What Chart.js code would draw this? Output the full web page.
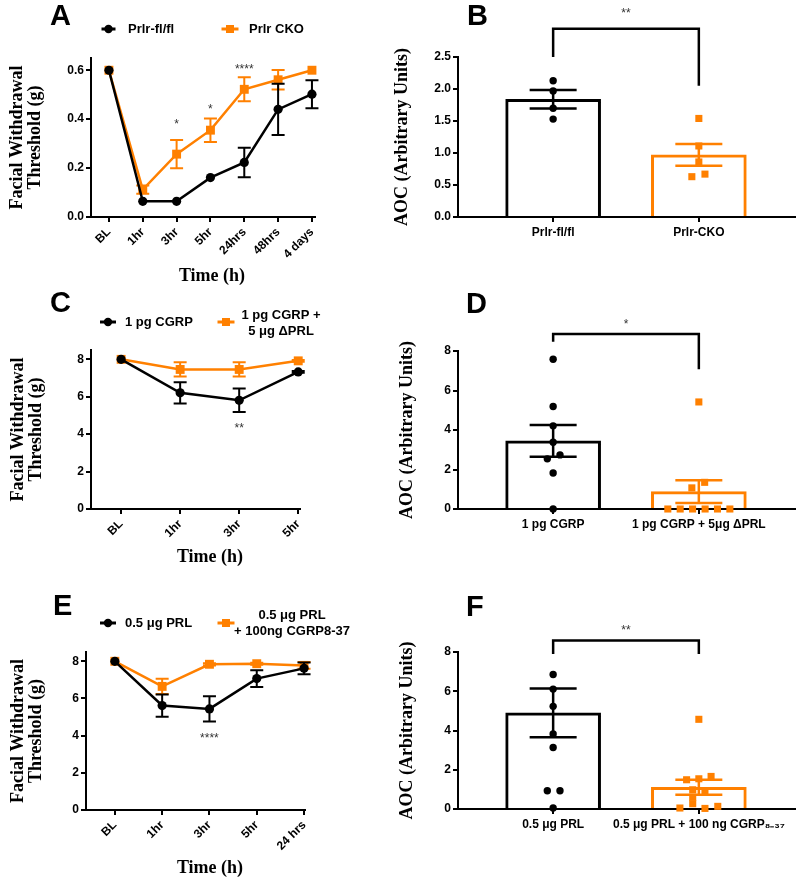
<!DOCTYPE html>
<html>
<head>
<meta charset="utf-8">
<script src="https://cdn.jsdelivr.net/npm/chart.js@4/dist/chart.umd.min.js"></script>
<style>
html, body { margin: 0; padding: 0; background: #fff; }
#wrap { position: relative; width: 800px; height: 879px; overflow: hidden; background: #fff; }
#wrap canvas { position: absolute; }
</style>
</head>
<body>
<div id="wrap">
  <canvas id="cA" width="380" height="290" style="left:0px;top:0px"></canvas>
  <canvas id="cB" width="420" height="290" style="left:380px;top:0px"></canvas>
  <canvas id="cC" width="380" height="290" style="left:0px;top:290px"></canvas>
  <canvas id="cD" width="420" height="290" style="left:380px;top:290px"></canvas>
  <canvas id="cE" width="380" height="299" style="left:0px;top:580px"></canvas>
  <canvas id="cF" width="420" height="299" style="left:380px;top:580px"></canvas>
</div>
<script>
// ================= DATA =================
// Panel A
const aTimes = ['BL', '1hr', '3hr', '5hr', '24hrs', '48hrs', '4 days'];
const aSeries = ['Prlr-fl/fl', 'Prlr CKO'];
const aFlox = [0.60, 0.064, 0.064, 0.161, 0.223, 0.44, 0.502];
const aFloxSem = [0, 0, 0, 0, 0.06, 0.105, 0.057];
const aCko = [0.60, 0.112, 0.257, 0.355, 0.522, 0.561, 0.60];
const aCkoSem = [0, 0.017, 0.058, 0.048, 0.049, 0.04, 0];
const aYTicks = [0, 0.2, 0.4, 0.6];
const aSigAt = [2, 3, 4];
const aSigY = [0.388, 0.449, 0.616];
const aSigText = ['*', '*', '****'];

// Panel B
const bGroups = ['Prlr-fl/fl', 'Prlr-CKO'];
const bMeans = [1.84, 0.97];
const bSem = [0.145, 0.17];
const bFloxPts = [2.13, 1.97, 1.70, 1.53];
const bFloxJit = [0, 0, 0, 0];
const bCkoPts = [1.54, 1.11, 0.86, 0.63, 0.67];
const bCkoJit = [0, 0, 0, -0.048, 0.042];
const bYTicks = [0, 0.5, 1.0, 1.5, 2.0, 2.5];
const bBracket = [2.5, 2.94, 2.05];   // left leg end, bar top, right leg end
const bSig = ['**', 3.22];

// Panel C
const cTimes = ['BL', '1hr', '3hr', '5hr'];
const cSeries = [['1 pg CGRP'], ['1 pg CGRP +', '5 \u03BCg \u0394PRL']];
const cCgrp = [8.0, 6.21, 5.81, 7.33];
const cCgrpSem = [0, 0.57, 0.63, 0.05];
const cDprl = [8.0, 7.46, 7.46, 7.92];
const cDprlSem = [0, 0.38, 0.38, 0.05];
const cYTicks = [0, 2, 4, 6, 8];
const cSigAt = [2];
const cSigY = [4.46];
const cSigText = ['**'];

// Panel D
const dGroups = ['1 pg CGRP', '1 pg CGRP + 5\u03BCg \u0394PRL'];
const dMeans = [3.45, 0.88];
const dSem = [0.80, 0.58];
const dCgrpPts = [7.58, 5.19, 4.21, 3.38, 2.54, 2.74, 1.82, 0];
const dCgrpJit = [0, 0, 0, 0, -0.04, 0.047, 0, 0];
const dDprlPts = [5.42, 1.35, 1.07, 0, 0, 0, 0, 0, 0];
const dDprlJit = [0, 0.04, -0.048, -0.213, -0.128, -0.043, 0.043, 0.128, 0.213];
const dYTicks = [0, 2, 4, 6, 8];
const dBracket = [8.47, 8.86, 7.07];
const dSig = ['*', 9.48];

// Panel E
const eTimes = ['BL', '1hr', '3hr', '5hr', '24 hrs'];
const eSeries = [['0.5 \u03BCg PRL'], ['0.5 \u03BCg PRL', '+ 100ng CGRP8-37']];
const ePrl = [8.0, 5.62, 5.44, 7.07, 7.62];
const ePrlSem = [0, 0.60, 0.68, 0.45, 0.32];
const eAnt = [8.0, 6.65, 7.84, 7.87, 7.78];
const eAntSem = [0, 0.41, 0.06, 0.05, 0.18];
const eYTicks = [0, 2, 4, 6, 8];
const eSigAt = [2];
const eSigY = [4.0];
const eSigText = ['****'];

// Panel F
const fGroups = ['0.5 \u03BCg PRL', '0.5 \u03BCg PRL + 100 ng CGRP\u2088\u208B\u2083\u2087'];
const fMeans = [4.90, 1.11];
const fSem = [1.245, 0.38];
const fPrlPts = [6.85, 6.11, 5.23, 3.82, 3.13, 0.93, 0.93, 0.05];
const fPrlJit = [0, 0, 0, 0, 0, -0.04, 0.047, 0];
const fAntPts = [4.57, 1.49, 1.54, 1.66, 0.98, 0.88, 0.60, 0.27, 0.05, 0.03, 0.135];
const fAntJit = [0, -0.084, 0, 0.084, -0.042, 0.042, -0.042, -0.042, -0.13, 0.042, 0.13];
const fYTicks = [0, 2, 4, 6, 8];
const fBracket = [7.9, 8.58, 7.9];
const fSig = ['**', 9.24];

// ================= STYLE =================
const BLACK = '#000000';
const ORANGE = '#FF8000';
const SANS = "Arial, 'Liberation Sans', Helvetica, sans-serif";
const SERIF = "'Times New Roman', 'Liberation Serif', Times, serif";

Chart.defaults.color = '#000';
Chart.defaults.font.family = SANS;

// ================= PLUGIN =================
function drawErrors(chart, index, phase) {
  const ds = chart.data.datasets[index];
  if (!ds.errorBars || ds.errorPhase !== phase) return;
  const meta = chart.getDatasetMeta(index);
  const ys = chart.scales.y;
  const ctx = chart.ctx;
  ctx.save();
  ctx.lineWidth = ds.errorWidth;
  meta.data.forEach((el, i) => {
    const e = ds.errorBars[i];
    if (!e) return;
    const v = ds.data[i].y;
    const top = ys.getPixelForValue(v + e);
    const bot = ys.getPixelForValue(v - e);
    const x = el.x;
    const c = ds.errorCap;
    ctx.strokeStyle = Array.isArray(ds.errorColor) ? ds.errorColor[i] : ds.errorColor;
    ctx.beginPath();
    ctx.moveTo(x, top); ctx.lineTo(x, bot);
    ctx.moveTo(x - c, top); ctx.lineTo(x + c, top);
    ctx.moveTo(x - c, bot); ctx.lineTo(x + c, bot);
    ctx.stroke();
  });
  ctx.restore();
}

const deco = {
  id: 'deco',
  beforeDatasetDraw(chart, args) { drawErrors(chart, args.index, 'before'); },
  afterDatasetDraw(chart, args) { drawErrors(chart, args.index, 'after'); },
  afterDraw(chart, _args, opts) {
    const ctx = chart.ctx;
    const xs = chart.scales.x, ys = chart.scales.y;
    ctx.save();
    if (opts.letter) {
      ctx.font = 'bold 29px ' + SANS;
      ctx.fillStyle = '#000';
      ctx.textAlign = 'left';
      ctx.textBaseline = 'alphabetic';
      ctx.fillText(opts.letter.text, opts.letter.x, opts.letter.y);
    }
    (opts.legend || []).forEach(it => {
      ctx.strokeStyle = it.color;
      ctx.fillStyle = it.color;
      ctx.lineWidth = 3;
      ctx.beginPath();
      ctx.moveTo(it.mx - it.half, it.my);
      ctx.lineTo(it.mx + it.half, it.my);
      ctx.stroke();
      if (it.style === 'rect') {
        ctx.fillRect(it.mx - 4, it.my - 4, 8, 8);
      } else {
        ctx.beginPath();
        ctx.arc(it.mx, it.my, 4.2, 0, Math.PI * 2);
        ctx.fill();
      }
      ctx.fillStyle = '#000';
      ctx.font = 'bold 13px ' + SANS;
      ctx.textAlign = it.align;
      ctx.textBaseline = 'middle';
      it.lines.forEach((t, k) => ctx.fillText(t, it.tx, it.ty[k]));
    });
    if (opts.xTitle) {
      ctx.fillStyle = '#000';
      ctx.font = 'bold 18px ' + SERIF;
      ctx.textAlign = 'center';
      ctx.textBaseline = 'middle';
      ctx.fillText(opts.xTitle.text, opts.xTitle.x, opts.xTitle.y);
    }
    if (opts.stars) {
      ctx.fillStyle = '#333';
      ctx.font = '12px ' + SANS;
      ctx.textAlign = 'center';
      ctx.textBaseline = 'middle';
      opts.stars.at.forEach((x, k) => {
        ctx.fillText(opts.stars.text[k], xs.getPixelForValue(x), ys.getPixelForValue(opts.stars.y[k]) + 3);
      });
    }
    if (opts.bracket) {
      const b = opts.bracket;
      const x0 = xs.getPixelForValue(0), x1 = xs.getPixelForValue(1);
      ctx.strokeStyle = '#000';
      ctx.lineWidth = 2.5;
      ctx.beginPath();
      ctx.moveTo(x0, ys.getPixelForValue(b.levels[0]));
      ctx.lineTo(x0, ys.getPixelForValue(b.levels[1]));
      ctx.lineTo(x1, ys.getPixelForValue(b.levels[1]));
      ctx.lineTo(x1, ys.getPixelForValue(b.levels[2]));
      ctx.stroke();
      ctx.fillStyle = '#333';
      ctx.font = '12px ' + SANS;
      ctx.textAlign = 'center';
      ctx.textBaseline = 'middle';
      ctx.fillText(b.sig[0], (x0 + x1) / 2, ys.getPixelForValue(b.sig[1]) + 3);
    }
    ctx.restore();
  }
};

// ================= HELPERS =================
function xAxis(min, max, labels, h, rot) {
  return {
    type: 'linear', min: min, max: max, offset: false,
    afterBuildTicks: s => { s.ticks = labels.map((_, i) => ({ value: i })); },
    afterFit: s => { s.height = h; },
    ticks: {
      autoSkip: false, minRotation: rot, maxRotation: rot, padding: 3, color: '#000',
      font: { family: SANS, weight: 'bold', size: 12 },
      callback: (v, i) => labels[i]
    },
    grid: { display: true, drawOnChartArea: false, drawTicks: true, tickLength: 5, color: '#000', lineWidth: 2, offset: false },
    border: { display: true, color: '#000', width: 2 }
  };
}
function yAxis(max, tickVals, digits, w, title, pad) {
  return {
    type: 'linear', min: 0, max: max,
    afterBuildTicks: s => { s.ticks = tickVals.map(v => ({ value: v })); },
    afterFit: s => { s.width = w; },
    ticks: {
      padding: 2, color: '#000',
      font: { family: SANS, weight: 'bold', size: 12 },
      callback: v => v.toFixed(digits)
    },
    grid: { display: true, drawOnChartArea: false, drawTicks: true, tickLength: 5, color: '#000', lineWidth: 2 },
    border: { display: true, color: '#000', width: 2 },
    title: {
      display: true, text: title, color: '#000',
      font: { family: SERIF, weight: 'bold', size: 18, lineHeight: 1.0 },
      padding: { top: pad, bottom: 0 }
    }
  };
}
function lineDs(label, vals, sem, color, style, order) {
  return {
    type: 'line', label: label,
    data: vals.map((v, i) => ({ x: i, y: v })),
    borderColor: color, backgroundColor: color, borderWidth: 2.5, tension: 0,
    pointStyle: style, pointRadius: style === 'rect' ? 6.3 : 4.6,
    pointBackgroundColor: color, pointBorderColor: color, pointBorderWidth: 0,
    clip: false, order: order,
    errorBars: sem, errorCap: 6.5, errorWidth: 2, errorColor: color, errorPhase: 'before'
  };
}
function barDs(means, sem) {
  return {
    type: 'bar', data: means.map((v, i) => ({ x: i, y: v })),
    backgroundColor: '#ffffff', borderColor: [BLACK, ORANGE], borderWidth: 3,
    barThickness: 95, order: 10,
    errorBars: sem, errorCap: 23.5, errorWidth: 2.5, errorColor: [BLACK, ORANGE], errorPhase: 'after'
  };
}
function ptsDs(vals, jit, group, color, style) {
  return {
    type: 'scatter', data: vals.map((v, i) => ({ x: group + jit[i], y: v })),
    pointStyle: style, pointRadius: style === 'rect' ? 5 : 3.7,
    pointBackgroundColor: color, pointBorderColor: color, pointBorderWidth: 0,
    backgroundColor: color, borderColor: color, showLine: false, clip: false, order: 0
  };
}
function baseOptions(scales, padding, decoOpts) {
  return {
    responsive: false, animation: false, events: [],
    layout: { padding: padding },
    scales: scales,
    plugins: { legend: { display: false }, tooltip: { enabled: false }, deco: decoOpts }
  };
}
const yLineTitle = ['Facial Withdrawal', 'Threshold (g)'];
const yBarTitle = 'AOC (Arbitrary Units)';

// ================= CHARTS =================
new Chart(document.getElementById('cA'), {
  type: 'line',
  data: { datasets: [
    lineDs(aSeries[0], aFlox, aFloxSem, BLACK, 'circle', 0),
    lineDs(aSeries[1], aCko, aCkoSem, ORANGE, 'rect', 1)
  ] },
  options: baseOptions(
    { x: xAxis(-0.53, 6.09, aTimes, 73, 45), y: yAxis(0.65, aYTicks, 1, 91, yLineTitle, 8) },
    { left: 0, top: 58, right: 65, bottom: 0 },
    {
      letter: { text: 'A', x: 50, y: 25 },
      legend: [
        { color: BLACK, style: 'circle', mx: 108.5, my: 29, half: 7, lines: [aSeries[0]], tx: 128, ty: [29], align: 'left' },
        { color: ORANGE, style: 'rect', mx: 230, my: 29, half: 8.5, lines: [aSeries[1]], tx: 249, ty: [29], align: 'left' }
      ],
      xTitle: { text: 'Time (h)', x: 212, y: 276 },
      stars: { at: aSigAt, y: aSigY, text: aSigText }
    }),
  plugins: [deco]
});

new Chart(document.getElementById('cB'), {
  type: 'scatter',
  data: { datasets: [
    barDs(bMeans, bSem),
    ptsDs(bFloxPts, bFloxJit, 0, BLACK, 'circle'),
    ptsDs(bCkoPts, bCkoJit, 1, ORANGE, 'rect')
  ] },
  options: baseOptions(
    { x: xAxis(-0.653, 1.66, bGroups, 73, 0), y: yAxis(2.5, bYTicks, 1, 78, yBarTitle, 13.5) },
    { left: 0, top: 57, right: 2, bottom: 0 },
    {
      letter: { text: 'B', x: 87, y: 25 },
      bracket: { levels: bBracket, sig: bSig }
    }),
  plugins: [deco]
});

new Chart(document.getElementById('cC'), {
  type: 'line',
  data: { datasets: [
    lineDs(cSeries[0][0], cCgrp, cCgrpSem, BLACK, 'circle', 0),
    lineDs(cSeries[1].join(' '), cDprl, cDprlSem, ORANGE, 'rect', 1)
  ] },
  options: baseOptions(
    { x: xAxis(-0.51, 3.03, cTimes, 71, 45), y: yAxis(8.5, cYTicks, 0, 91, yLineTitle, 9.5) },
    { left: 0, top: 60, right: 80, bottom: 0 },
    {
      letter: { text: 'C', x: 50, y: 22 },
      legend: [
        { color: BLACK, style: 'circle', mx: 108, my: 32, half: 8, lines: cSeries[0], tx: 125, ty: [32], align: 'left' },
        { color: ORANGE, style: 'rect', mx: 226, my: 32, half: 8.5, lines: cSeries[1], tx: 281, ty: [25, 41], align: 'center' }
      ],
      xTitle: { text: 'Time (h)', x: 210, y: 267 },
      stars: { at: cSigAt, y: cSigY, text: cSigText }
    }),
  plugins: [deco]
});

new Chart(document.getElementById('cD'), {
  type: 'scatter',
  data: { datasets: [
    barDs(dMeans, dSem),
    ptsDs(dCgrpPts, dCgrpJit, 0, BLACK, 'circle'),
    ptsDs(dDprlPts, dDprlJit, 1, ORANGE, 'rect')
  ] },
  options: baseOptions(
    { x: xAxis(-0.653, 1.66, dGroups, 71, 0), y: yAxis(8, dYTicks, 0, 78, yBarTitle, 18) },
    { left: 0, top: 61, right: 2, bottom: 0 },
    {
      letter: { text: 'D', x: 86, y: 23 },
      bracket: { levels: dBracket, sig: dSig }
    }),
  plugins: [deco]
});

new Chart(document.getElementById('cE'), {
  type: 'line',
  data: { datasets: [
    lineDs(eSeries[0][0], ePrl, ePrlSem, BLACK, 'circle', 0),
    lineDs(eSeries[1].join(' '), eAnt, eAntSem, ORANGE, 'rect', 1)
  ] },
  options: baseOptions(
    { x: xAxis(-0.61, 4.02, eTimes, 69, 45), y: yAxis(8.5, eYTicks, 0, 86, yLineTitle, 9.5) },
    { left: 0, top: 72, right: 75, bottom: 0 },
    {
      letter: { text: 'E', x: 53, y: 35 },
      legend: [
        { color: BLACK, style: 'circle', mx: 108, my: 43, half: 8, lines: eSeries[0], tx: 125, ty: [43], align: 'left' },
        { color: ORANGE, style: 'rect', mx: 226, my: 43, half: 8.5, lines: eSeries[1], tx: 292, ty: [35, 51], align: 'center' }
      ],
      xTitle: { text: 'Time (h)', x: 210, y: 288 },
      stars: { at: eSigAt, y: eSigY, text: eSigText }
    }),
  plugins: [deco]
});

new Chart(document.getElementById('cF'), {
  type: 'scatter',
  data: { datasets: [
    barDs(fMeans, fSem),
    ptsDs(fPrlPts, fPrlJit, 0, BLACK, 'circle'),
    ptsDs(fAntPts, fAntJit, 1, ORANGE, 'rect')
  ] },
  options: baseOptions(
    { x: xAxis(-0.653, 1.66, fGroups, 70, 0), y: yAxis(8, fYTicks, 0, 78, yBarTitle, 18) },
    { left: 0, top: 72, right: 2, bottom: 0 },
    {
      letter: { text: 'F', x: 86, y: 36 },
      bracket: { levels: fBracket, sig: fSig }
    }),
  plugins: [deco]
});
</script>
</body>
</html>
